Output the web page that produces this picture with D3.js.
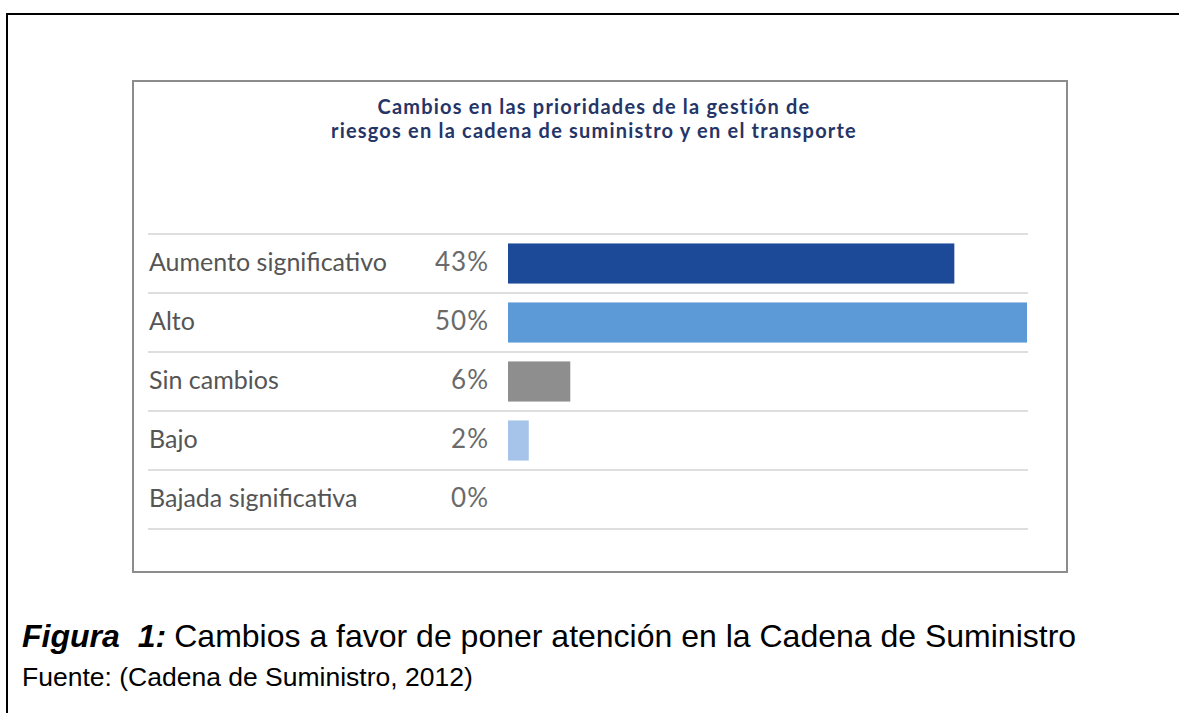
<!DOCTYPE html>
<html lang="es">
  <head>
    <meta charset="UTF-8" />
    <title>Cambios en las prioridades de la gestión de riesgos</title>
    <script src="https://d3js.org/d3.v7.min.js"></script>
    <style>
      body { margin: 0; background: #fff; }
      svg { display: block; }
    </style>
  </head>
  <body>
    <svg id="chart" width="1179" height="713"></svg>

    <script>
      // data
      const categories = [
        "Aumento significativo",
        "Alto",
        "Sin cambios",
        "Bajo",
        "Bajada significativa",
      ];
      const values = [43, 50, 6, 2, 0];
      const barColors = ["#1d4a98", "#5b9ad6", "#8e8e8e", "#a6c4ea", "#cccccc"];
      const titleLines = [
        "Cambios en las prioridades de la gestión de",
        "riesgos en la cadena de suministro y en el transporte",
      ];
      const captionBold = "Figura";
      const captionNum = "1:";
      const captionText = "Cambios a favor de poner atención en la Cadena de Suministro";
      const sourceText = "Fuente: (Cadena de Suministro, 2012)";

      const rows = categories.map((c, i) => ({ cat: c, value: values[i], color: barColors[i] }));

      const svg = d3.select("#chart");

      // outer document frame (top and left edges visible)
      svg.append("line")
        .attr("x1", 7).attr("x2", 1179).attr("y1", 14).attr("y2", 14)
        .attr("stroke", "#000").attr("stroke-width", 2);
      svg.append("line")
        .attr("x1", 7).attr("x2", 7).attr("y1", 13).attr("y2", 713)
        .attr("stroke", "#000").attr("stroke-width", 2);

      // inner picture frame
      svg.append("rect")
        .attr("x", 133).attr("y", 81)
        .attr("width", 934).attr("height", 491)
        .attr("fill", "#fff")
        .attr("stroke", "#8c8c8c")
        .attr("stroke-width", 2);

      // title, one text per line
      svg.append("g")
        .selectAll("text")
        .data(titleLines)
        .enter()
        .append("text")
        .attr("x", 594)
        .attr("y", (d, i) => 114 + i * 24)
        .attr("text-anchor", "middle")
        .style("font-family", "Lato, 'Open Sans', sans-serif")
        .style("font-weight", "bold")
        .style("font-size", "20px")
        .style("letter-spacing", "1.2px")
        .style("fill", "#263567")
        .text((d) => d);

      // scales
      const y = d3.scaleBand()
        .domain(categories)
        .range([234, 529])
        .paddingInner(0.32)
        .paddingOuter(0.16);

      const x = d3.scaleLinear()
        .domain([0, d3.max(values)])
        .range([508, 1027]);

      const half = (y.step() * y.paddingInner()) / 2;

      // row separators
      const sepY = categories.map((c) => y(c) - half);
      sepY.push(y(categories[categories.length - 1]) + y.bandwidth() + half);
      svg.append("g")
        .selectAll("line")
        .data(sepY)
        .enter()
        .append("line")
        .attr("x1", 148)
        .attr("x2", 1028)
        .attr("y1", (d) => d)
        .attr("y2", (d) => d)
        .attr("stroke", "#dedede")
        .attr("stroke-width", 2);

      // bars
      svg.append("g")
        .selectAll("rect")
        .data(rows.filter((d) => d.value > 0))
        .enter()
        .append("rect")
        .attr("x", x(0))
        .attr("y", (d) => y(d.cat))
        .attr("width", (d) => x(d.value) - x(0))
        .attr("height", y.bandwidth())
        .attr("fill", (d) => d.color);

      // category labels
      svg.append("g")
        .selectAll("text")
        .data(rows)
        .enter()
        .append("text")
        .attr("x", 149)
        .attr("y", (d) => y(d.cat) + y.bandwidth() / 2)
        .attr("dy", "0.3em")
        .style("font-family", "Lato, 'Open Sans', sans-serif")
        .style("font-size", "25px")
        .style("fill", "#555")
        .text((d) => d.cat);

      // value labels
      svg.append("g")
        .selectAll("text")
        .data(rows)
        .enter()
        .append("text")
        .attr("x", 489)
        .attr("y", (d) => y(d.cat) + y.bandwidth() / 2)
        .attr("dy", "0.3em")
        .attr("text-anchor", "end")
        .style("font-family", "Lato, 'Liberation Sans', sans-serif")
        .style("font-size", "26px")
        .style("letter-spacing", "1px")
        .style("fill", "#6a6a6a")
        .text((d) => d.value + "%");

      // figure caption
      const cap = svg.append("text")
        .attr("x", 22)
        .attr("y", 647)
        .style("font-family", "'Liberation Sans', Arial, sans-serif")
        .style("font-size", "32px")
        .style("fill", "#000");
      cap.append("tspan")
        .style("font-weight", "bold")
        .style("font-style", "italic")
        .text(captionBold);
      cap.append("tspan")
        .attr("dx", 18)
        .style("font-weight", "bold")
        .style("font-style", "italic")
        .text(captionNum);
      cap.append("tspan")
        .attr("dx", 8)
        .text(captionText);

      svg.append("text")
        .attr("x", 22)
        .attr("y", 686)
        .style("font-family", "'Liberation Sans', Arial, sans-serif")
        .style("font-size", "26.5px")
        .style("fill", "#000")
        .text(sourceText);
    </script>
  </body>
</html>
